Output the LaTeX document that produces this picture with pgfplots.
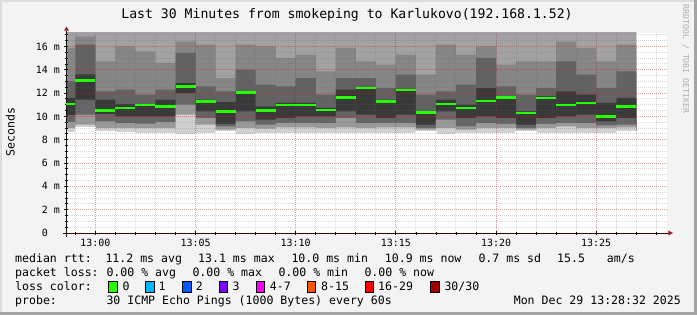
\documentclass[border=0pt]{standalone}
\usepackage{fontspec}
\setmainfont{DejaVu Sans Mono}
\usepackage{pgfplots}
\usepackage{pgfplotstable}
\pgfplotsset{compat=1.18}

\definecolor{bgc}{HTML}{F3F3F3}
\definecolor{shadeA}{HTML}{DCDCDC}
\definecolor{shadeB}{HTML}{A3A3A3}
\definecolor{axisc}{HTML}{101010}
\definecolor{arrowc}{HTML}{9F1C1C}
\definecolor{sa0}{HTML}{A2A2A2}
\definecolor{sa1}{HTML}{868686}
\definecolor{sa2}{HTML}{626262}
\definecolor{sa3}{HTML}{393939}
\definecolor{sb2}{HTML}{656565}
\definecolor{sb1}{HTML}{999999}
\definecolor{sb0}{HTML}{D0D0D0}
\definecolor{l0}{HTML}{26FF00}
\definecolor{l1}{HTML}{00B8FF}
\definecolor{l2}{HTML}{0059FF}
\definecolor{l3}{HTML}{7E00FF}
\definecolor{l4}{HTML}{FF00FF}
\definecolor{l8}{HTML}{FF5500}
\definecolor{l16}{HTML}{FF0000}
\definecolor{l30}{HTML}{A10000}

% minutes relative to 13:00; u0..l0 = smoke band limits (ms); med = median rtt (ms)
\pgfplotstableread{
x        u0    u1    u2    u3    l3    l2    l1    l0    med
-1.4667  17.3  15.87 13.01 11.58 10.10 9.50  9.00  8.60  11.07
-1       17.3  16.87 16.15 13.60 11.43 10.15 9.29  9.00  13.07
0        17.3  14.72 12.15 11.43 10.20 9.58  9.00  8.66  10.50
1        17.3  16.01 12.29 11.06 10.00 9.43  9.00  8.58  10.70
2        17.3  15.58 11.86 11.00 10.00 9.38  9.00  8.50  11.00
3        17.3  14.58 12.29 11.43 10.00 9.50  9.00  8.50  10.84
4        17.3  16.44 15.44 12.86 12.00 11.00 10.15 8.40  12.56
5        17.3  16.15 12.58 11.43 10.43 9.86  9.29  8.50  11.27
6        17.3  13.29 12.15 11.23 9.35  9.15  8.86  8.66  10.41
7        17.3  16.15 14.01 12.15 10.43 9.58  9.00  8.40  12.04
8        17.3  16.01 12.72 10.86 9.72  9.29  8.95  8.50  10.50
9        17.3  15.01 12.58 11.15 9.86  9.43  9.05  8.50  11.00
10       17.3  15.29 13.29 11.15 10.00 9.43  9.05  8.50  10.96
11       17.3  13.86 11.86 10.72 10.00 9.43  9.00  8.50  10.56
12       17.3  15.87 13.29 12.29 10.43 9.86  9.05  8.50  11.63
13       17.3  14.72 13.29 12.50 10.15 9.43  9.00  8.50  12.42
14       17.3  14.44 12.43 11.43 9.86  9.43  9.05  8.50  11.27
15       17.3  15.29 13.58 12.35 10.15 9.43  9.05  8.50  12.27
16       17.3  13.58 11.86 10.43 9.29  9.00  8.86  8.66  10.33
17       17.3  16.15 12.15 11.43 10.43 9.72  9.00  8.43  11.07
18       17.3  15.29 12.72 11.00 9.86  9.15  8.86  8.50  10.70
19       17.3  16.01 15.01 12.43 10.00 9.43  9.00  8.50  11.33
20       17.3  14.44 12.58 11.72 9.86  9.35  9.00  8.50  11.61
21       17.3  14.72 11.86 10.43 9.29  9.00  8.86  8.66  10.27
22       17.3  14.72 12.43 11.72 9.86  9.35  9.00  8.50  11.56
23       17.3  16.44 14.72 12.15 10.00 9.43  9.15  8.50  11.00
24       17.3  15.87 13.58 11.86 10.15 9.43  9.00  8.50  11.13
25       17.3  14.72 12.43 11.15 9.58  9.23  9.00  8.50  9.98
26       17.3  16.15 13.86 11.58 9.86  9.29  9.05  8.72  10.84
27       17.3  16.15 13.86 11.58 9.86  9.29  9.05  8.72  10.84
}\smoke

\begin{document}
\begin{tikzpicture}[x=1bp,y=1bp]
\fill[bgc] (0,0) rectangle (697,315);
\fill[shadeA] (0,313) rectangle (697,315);
\fill[shadeA] (0,0) rectangle (2,315);
\fill[shadeB] (0,0) rectangle (697,3);
\fill[shadeB] (694,0) rectangle (697,315);
\fill[white] (66,82) rectangle (667,282);

\begin{axis}[
  at={(66bp,82bp)}, anchor=south west,
  scale only axis, width=601bp, height=200bp,
  xmin=-1.4667, xmax=28.5333, ymin=0, ymax=17.15,
  axis line style={draw=none},
  set layers=axis on top, clip mode=individual,
  xtick={0,5,10,15,20,25},
  xticklabels={13:00,13:05,13:10,13:15,13:20,13:25},
  minor xtick={-1,0,...,28},
  ytick={0,2,...,16},
  yticklabels={0\hphantom{00},2 m,4 m,6 m,8 m,10 m,12 m,14 m,16 m},
  minor ytick={0.5,1,...,17},
  xtick pos=left, ytick pos=left,
  tick align=center,
  major tick length=4bp, minor tick length=3bp,
  tick style={color=axisc, line width=0.8bp},
  grid=both,
  major grid style={dash pattern=on 1bp off 1bp, line width=1bp, color=red!90!black, opacity=0.26},
  minor grid style={dash pattern=on 1bp off 1bp, line width=1bp, color=black!60, opacity=0.25},
  tick label style={font=\fontsize{10}{12}\selectfont, text=black, inner sep=0pt},
  xticklabel style={anchor=north, yshift=-4bp},
  yticklabel style={anchor=east, xshift=-4bp},
]
\addplot[const plot mark left, fill=sa0, draw=none] table[x=x,y=u0]{\smoke} \closedcycle;
\addplot[const plot mark left, fill=sa1, draw=none] table[x=x,y=u1]{\smoke} \closedcycle;
\addplot[const plot mark left, fill=sa2, draw=none] table[x=x,y=u2]{\smoke} \closedcycle;
\addplot[const plot mark left, fill=sa3, draw=none] table[x=x,y=u3]{\smoke} \closedcycle;
\addplot[const plot mark left, fill=sb2, draw=none] table[x=x,y=l3]{\smoke} \closedcycle;
\addplot[const plot mark left, fill=sb1, draw=none] table[x=x,y=l2]{\smoke} \closedcycle;
\addplot[const plot mark left, fill=sb0, draw=none] table[x=x,y=l1]{\smoke} \closedcycle;
\addplot[const plot mark left, fill=white, draw=white, line width=1.2bp] table[x=x,y=l0]{\smoke} \closedcycle;
\addplot[on layer=axis foreground, jump mark left, draw=l0, line width=2.3bp, no markers] table[x=x,y=med]{\smoke};
\end{axis}

% axes with arrows
\draw[axisc, line width=1bp] (66.5,78.5) -- (66.5,284.5);
\fill[arrowc] (64,284.3) -- (69,284.3) -- (66.5,288.5) -- cycle;
\draw[axisc, line width=1bp] (63,82) -- (668.5,82);
\fill[arrowc] (668.3,79.5) -- (668.3,84.5) -- (673,82) -- cycle;

% title and side texts
\node[anchor=base, inner sep=0pt] at (347,297) {\fontsize{13.2}{15}\selectfont Last 30 Minutes from smokeping to Karlukovo(192.168.1.52)};
\node[rotate=90, anchor=base, inner sep=0pt] at (14.7,183) {\fontsize{11.6}{13}\selectfont Seconds};
\node[rotate=-90, anchor=base, inner sep=0pt, text=black!32] at (683,256) {\fontsize{8.2}{10}\selectfont RRDTOOL / TOBI OETIKER};

% legend
\begin{scope}[every node/.style={anchor=base west, inner sep=0pt, font=\fontsize{11.6}{13}\selectfont}]
\node at (15,52.3) {median rtt:};
\node at (105.3,52.3) {11.2 ms avg};
\node at (198,52.3) {13.1 ms max};
\node at (291.3,52.3) {10.0 ms min};
\node at (384.7,52.3) {10.9 ms now};
\node at (478.3,52.3) {0.7 ms sd};
\node at (557,52.3) {15.5};
\node at (606.7,52.3) {am/s};
\node at (15,38.3) {packet loss:};
\node at (106.3,38.3) {0.00 \% avg};
\node at (192.3,38.3) {0.00 \% max};
\node at (278.3,38.3) {0.00 \% min};
\node at (364.3,38.3) {0.00 \% now};
\node at (15,24.3) {loss color:};
\node at (122.3,24.3) {0};
\node at (158.3,24.3) {1};
\node at (195.7,24.3) {2};
\node at (232.3,24.3) {3};
\node at (269.7,24.3) {4-7};
\node at (321,24.3) {8-15};
\node at (378,24.3) {16-29};
\node at (444.3,24.3) {30/30};
\node at (15,10.3) {probe:};
\node at (106.3,10.3) {30 ICMP Echo Pings (1000 Bytes) every 60s};
\node[anchor=base east] at (681,10.3) {Mon Dec 29 13:28:32 2025};
\end{scope}
\foreach \bx/\bc in {108.7/l0,145.7/l1,182.7/l2,219/l3,256/l4,307.3/l8,365.3/l16,430.7/l30}{
  \draw[fill=\bc, draw=black, line width=0.8bp] (\bx,23) rectangle ++(8.5,10.5);
}
\end{tikzpicture}
\end{document}
